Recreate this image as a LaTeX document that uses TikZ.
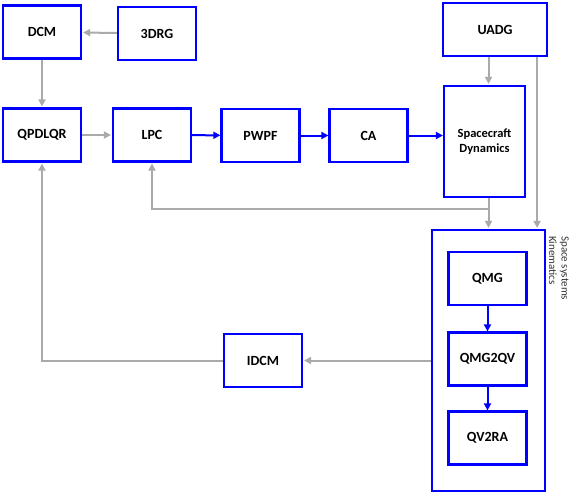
\documentclass[tikz,border=0pt]{standalone}
\usepackage{fontspec}
\setmainfont{Carlito}
\usetikzlibrary{positioning,arrows.meta,calc}
\definecolor{boxblue}{HTML}{0000FF}
\definecolor{linegray}{HTML}{AAAAAA}

\begin{document}
\begin{tikzpicture}[x=1pt,y=-1pt,
      blk/.style={draw=boxblue,line width=2.2pt,minimum width=78pt,minimum height=53pt,
        inner sep=1pt,font=\fontsize{14}{16}\selectfont\bfseries},
      grp/.style={draw=boxblue,line width=2.2pt,minimum width=113pt,minimum height=261pt},
      garrow/.style={-{Triangle[length=7pt,width=7pt]},line width=2pt,linegray,shorten >=1pt},
      barrow/.style={-{Triangle[length=7pt,width=7pt]},line width=2pt,boxblue}]

    \useasboundingbox (0,0) rectangle (572,493);

    \node[blk] (dcm) at (42,32) {DCM};
    \node[blk] (drg) at (157,33.5) {3DRG};
    \node[blk] (qpd) at (42,135) {QPDLQR};
    \node[blk] (lpc) at (152,135) {LPC};
    \node[blk] (pwpf) at (260.5,135.5) {PWPF};
    \node[blk] (ca) at (368.5,135.5) {CA};
    \node[blk,minimum width=81pt,minimum height=111pt,align=center,
      font=\fontsize{12.5}{15}\selectfont\bfseries] (scd) at (484.5,141.5) {Spacecraft\\Dynamics};
    \node[blk,minimum width=104pt] (uadg) at (495,29.5) {UADG};

    % kinematics group
    \node[grp] (kin) at (488.5,360.5) {};
    \node[rotate=-90,anchor=north west,align=left,inner sep=0pt,text=black!80,
      font=\fontsize{11}{12.5}\selectfont] (kinlbl) at (569,236) {Space systems\\Kinematics};
    \node[blk] (qmg) at (487.5,278.5) {QMG};
    \node[blk] (qmgqv) at (487.5,359) {QMG2QV};
    \node[blk] (qvra) at (487.5,438) {QV2RA};
    \node[blk] (idcm) at (263,360.5) {IDCM};

    \draw[garrow] (drg) -- (dcm);
    \draw[garrow] (dcm) -- (qpd);
    \draw[garrow] (qpd) -- (lpc);
    \draw[barrow] (lpc) -- (pwpf);
    \draw[barrow] (pwpf) -- (ca);
    \draw[barrow] (ca) -- (ca -| scd.west);
    \draw[garrow] ([xshift=4pt]scd.north |- uadg.south) -- ([xshift=4pt]scd.north);
    \draw[garrow] ([xshift=-11pt]uadg.south east) -- ([xshift=-11pt]uadg.south east |- kin.north);
    \draw[garrow] ([xshift=4pt]scd.south) -- ([xshift=4pt]scd.south |- kin.north);
    \coordinate (fb) at ([xshift=4pt,yshift=-11pt]scd.south);
    \draw[garrow] (fb) -| (lpc.south);
    \draw[barrow] (qmg) -- (qmgqv);
    \draw[barrow] (qmgqv) -- (qvra);
    \draw[garrow] (kin.west) -- (idcm.east);
    \draw[garrow] (idcm.west) -| (qpd.south);
  \end{tikzpicture}
\end{document}
